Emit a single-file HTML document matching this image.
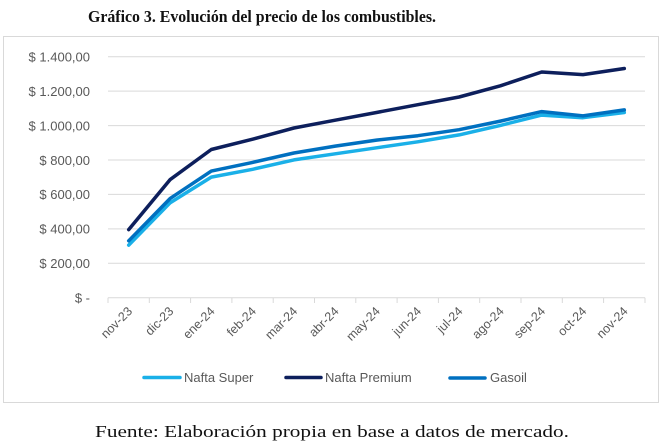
<!DOCTYPE html>
<html><head><meta charset="utf-8"><style>
html,body{margin:0;padding:0;background:#fff;width:664px;height:448px;overflow:hidden}
</style></head><body>
<svg width="664" height="448" xmlns="http://www.w3.org/2000/svg">
<rect width="664" height="448" fill="#fff"/>
<text x="262" y="22" text-anchor="middle" font-family="Liberation Serif, serif" font-weight="bold" font-size="17" fill="#111" textLength="348" lengthAdjust="spacingAndGlyphs">Gráfico 3. Evolución del precio de los combustibles.</text>
<rect x="3.5" y="36.5" width="655" height="366" fill="#fff" stroke="#d9d9d9"/>
<g stroke="#d9d9d9" stroke-width="1">
<line x1="108" x2="645" y1="56.7" y2="56.7"/>
<line x1="108" x2="645" y1="91.1" y2="91.1"/>
<line x1="108" x2="645" y1="125.6" y2="125.6"/>
<line x1="108" x2="645" y1="160" y2="160"/>
<line x1="108" x2="645" y1="194.4" y2="194.4"/>
<line x1="108" x2="645" y1="228.9" y2="228.9"/>
<line x1="108" x2="645" y1="263.3" y2="263.3"/>
<line x1="108" x2="645" y1="297.7" y2="297.7"/>
</g>
<g stroke="#d9d9d9">
<line x1="108" x2="108" y1="297.7" y2="303"/><line x1="149.3" x2="149.3" y1="297.7" y2="303"/><line x1="190.6" x2="190.6" y1="297.7" y2="303"/><line x1="231.9" x2="231.9" y1="297.7" y2="303"/><line x1="273.2" x2="273.2" y1="297.7" y2="303"/><line x1="314.5" x2="314.5" y1="297.7" y2="303"/><line x1="355.8" x2="355.8" y1="297.7" y2="303"/><line x1="397.1" x2="397.1" y1="297.7" y2="303"/><line x1="438.4" x2="438.4" y1="297.7" y2="303"/><line x1="479.7" x2="479.7" y1="297.7" y2="303"/><line x1="521" x2="521" y1="297.7" y2="303"/><line x1="562.3" x2="562.3" y1="297.7" y2="303"/><line x1="603.6" x2="603.6" y1="297.7" y2="303"/><line x1="645" x2="645" y1="297.7" y2="303"/>
</g>
<g font-family="Liberation Sans, sans-serif" font-size="13" fill="#595959" text-anchor="end">
<text x="90" y="61.5">$ 1.400,00</text>
<text x="90" y="96">$ 1.200,00</text>
<text x="90" y="130.4">$ 1.000,00</text>
<text x="90" y="164.8">$ 800,00</text>
<text x="90" y="199.2">$ 600,00</text>
<text x="90" y="233.7">$ 400,00</text>
<text x="90" y="268.1">$ 200,00</text>
<text x="90" y="302.5">$ -</text>
</g>
<g font-family="Liberation Sans, sans-serif" font-size="12.5" fill="#595959" text-anchor="end">
<text transform="translate(133,312) rotate(-45)">nov-23</text>
<text transform="translate(174.3,312) rotate(-45)">dic-23</text>
<text transform="translate(215.6,312) rotate(-45)">ene-24</text>
<text transform="translate(256.9,312) rotate(-45)">feb-24</text>
<text transform="translate(298.2,312) rotate(-45)">mar-24</text>
<text transform="translate(339.5,312) rotate(-45)">abr-24</text>
<text transform="translate(380.8,312) rotate(-45)">may-24</text>
<text transform="translate(422.1,312) rotate(-45)">jun-24</text>
<text transform="translate(463.4,312) rotate(-45)">jul-24</text>
<text transform="translate(504.7,312) rotate(-45)">ago-24</text>
<text transform="translate(546,312) rotate(-45)">sep-24</text>
<text transform="translate(587.3,312) rotate(-45)">oct-24</text>
<text transform="translate(628.6,312) rotate(-45)">nov-24</text>
</g>
<g fill="none" stroke-width="3.5" stroke-linejoin="round" stroke-linecap="round">
<polyline stroke="#1ab0e8" points="128.7,245.1 170,202.9 211.3,177.1 252.6,169.3 293.9,159.9 335.2,153.8 376.5,147.8 417.8,141.8 459.1,134.9 500.4,125.4 541.7,115.1 583,117.7 624.3,112.5"/>
<polyline stroke="#0070c0" points="128.7,240.8 170,198.6 211.3,171.1 252.6,162.4 293.9,153 335.2,146.1 376.5,140.1 417.8,135.7 459.1,129.7 500.4,121.1 541.7,111.6 583,115.9 624.3,109.9"/>
<polyline stroke="#0d1f5c" points="128.7,229.6 170,179.7 211.3,149.5 252.6,139.2 293.9,128 335.2,120.2 376.5,112.5 417.8,104.7 459.1,97 500.4,85.8 541.7,72 583,74.6 624.3,68.5"/>
</g>
<g stroke-width="3.5" stroke-linecap="round">
<line x1="144" x2="180" y1="377.5" y2="377.5" stroke="#1ab0e8"/>
<line x1="286" x2="321" y1="377.5" y2="377.5" stroke="#0d1f5c"/>
<line x1="450" x2="485" y1="378" y2="378" stroke="#0070c0"/>
</g>
<g font-family="Liberation Sans, sans-serif" font-size="13" fill="#595959">
<text x="184" y="382">Nafta Super</text>
<text x="325" y="382">Nafta Premium</text>
<text x="490" y="382">Gasoil</text>
</g>
<text x="332" y="437" text-anchor="middle" font-family="Liberation Serif, serif" font-size="17" fill="#111" textLength="474" lengthAdjust="spacingAndGlyphs">Fuente: Elaboración propia en base a datos de mercado.</text>
</svg>
</body></html>
